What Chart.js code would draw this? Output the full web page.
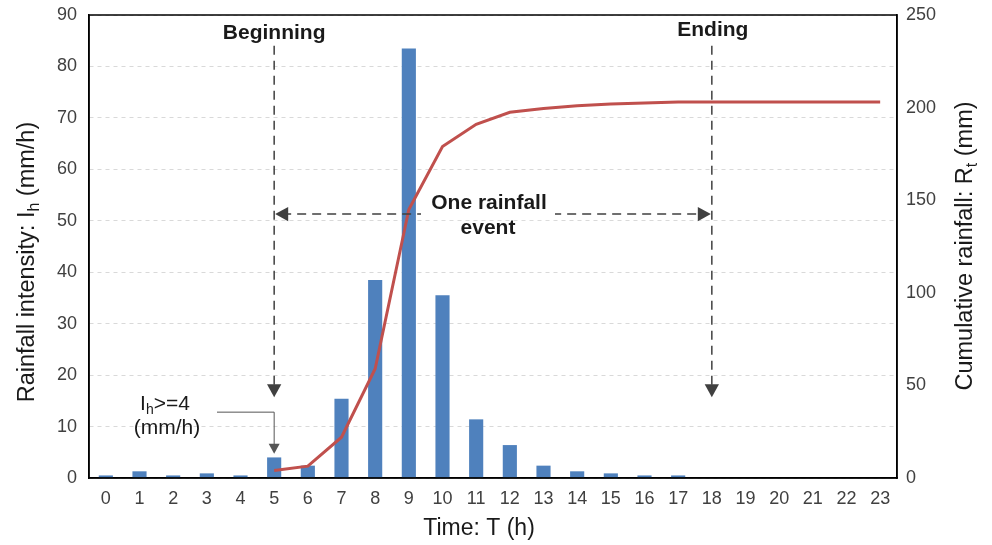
<!DOCTYPE html>
<html>
<head>
<meta charset="utf-8">
<script src="https://cdn.jsdelivr.net/npm/chart.js@4"></script>
<style>
  html, body { margin: 0; padding: 0; background: #fff; }
  #wrap { width: 992px; height: 545px; }
</style>
</head>
<body>
<div id="wrap"><canvas id="myChart" width="992" height="545"></canvas></div>
<script>
// hours 0..23
const hours = ['0','1','2','3','4','5','6','7','8','9','10','11','12','13','14','15','16','17','18','19','20','21','22','23'];
// hourly rainfall intensity (mm/h)
const intensity = [0.5, 1.3, 0.5, 0.9, 0.5, 4.0, 2.4, 15.4, 38.5, 83.5, 35.5, 11.4, 6.4, 2.4, 1.3, 0.9, 0.5, 0.5, 0, 0, 0, 0, 0, 0];
// cumulative rainfall (mm), starts at the beginning of the event
const cumulative = [null, null, null, null, null, 4.0, 6.4, 22, 59, 145, 179, 191, 197.5, 199.5, 201, 202, 202.5, 203, 203, 203, 203, 203, 203, 203];
const leftTicks = [0, 10, 20, 30, 40, 50, 60, 70, 80, 90];
const rightTicks = [0, 50, 100, 150, 200, 250];
const eventStart = 5;
const eventEnd = 18;

const FONT = 'Liberation Sans, Arial, sans-serif';
const txt = '#1a1a1a';
const tickCol = '#404040';
const arrowCol = '#404040';

function arrowHead(ctx, x, y, dir, size) {
  // dir: 'down', 'left', 'right'
  ctx.beginPath();
  if (dir === 'down') {
    ctx.moveTo(x, y); ctx.lineTo(x - size * 0.55, y - size); ctx.lineTo(x + size * 0.55, y - size);
  } else if (dir === 'left') {
    ctx.moveTo(x, y); ctx.lineTo(x + size, y - size * 0.55); ctx.lineTo(x + size, y + size * 0.55);
  } else {
    ctx.moveTo(x, y); ctx.lineTo(x - size, y - size * 0.55); ctx.lineTo(x - size, y + size * 0.55);
  }
  ctx.closePath();
  ctx.fill();
}

// draws pieces [[text, isSub], ...] centred at (0,0) of current transform
function subText(ctx, parts, size) {
  const subSize = Math.round(size * 0.68);
  let w = 0;
  parts.forEach(p => {
    ctx.font = (p[1] ? subSize : size) + 'px ' + FONT;
    w += ctx.measureText(p[0]).width;
  });
  let x = -w / 2;
  ctx.textAlign = 'left';
  ctx.textBaseline = 'middle';
  parts.forEach(p => {
    ctx.font = (p[1] ? subSize : size) + 'px ' + FONT;
    ctx.fillText(p[0], x, p[1] ? size * 0.28 : 0);
    x += ctx.measureText(p[0]).width;
  });
}

const annotations = {
  id: 'annotations',
  afterDraw(chart) {
    const ctx = chart.ctx;
    const area = chart.chartArea;
    const xs = chart.scales.x;
    const ys = chart.scales.y;
    ctx.save();

    // plot frame
    ctx.strokeStyle = '#000';
    ctx.lineWidth = 1.5;
    ctx.strokeRect(area.left, area.top, area.right - area.left, area.bottom - area.top);

    const xb = xs.getPixelForValue(eventStart);
    const xe = xs.getPixelForValue(eventEnd);
    const yTop = ys.getPixelForValue(84);
    const yTip = ys.getPixelForValue(15.7);
    const yH = ys.getPixelForValue(51.3);

    // vertical dashed arrows
    ctx.strokeStyle = arrowCol;
    ctx.fillStyle = arrowCol;
    ctx.lineWidth = 1.5;
    ctx.setLineDash([9, 6]);
    [xb, xe].forEach(x => {
      ctx.beginPath();
      ctx.moveTo(x, yTop);
      ctx.lineTo(x, yTip - 10);
      ctx.stroke();
    });
    // horizontal double arrow
    ctx.beginPath();
    ctx.moveTo(xb + 8, yH);
    ctx.lineTo(xe - 8, yH);
    ctx.stroke();
    ctx.setLineDash([]);
    arrowHead(ctx, xb, yTip, 'down', 13);
    arrowHead(ctx, xe, yTip, 'down', 13);
    arrowHead(ctx, xb + 1, yH, 'left', 13);
    arrowHead(ctx, xe - 1, yH, 'right', 13);

    // label box for the event text
    const xm = (xb + xe) / 2 - 5;
    ctx.fillStyle = '#fff';
    ctx.fillRect(xm - 67, yH - 24, 134, 30);
    ctx.fillStyle = txt;
    ctx.font = 'bold 21px ' + FONT;
    ctx.textAlign = 'center';
    ctx.textBaseline = 'middle';
    ctx.fillText('One rainfall', xm + 1, yH - 11);
    ctx.fillText('event', xm, yH + 14);

    ctx.fillText('Beginning', xb, area.top + 18);
    ctx.fillText('Ending', xe + 1, area.top + 15);

    // Ih >= 4 threshold label with connector
    ctx.save();
    ctx.translate(165, ys.getPixelForValue(14.3));
    ctx.fillStyle = txt;
    subText(ctx, [['I', false], ['h', true], ['>=4', false]], 21);
    ctx.restore();
    ctx.font = '21px ' + FONT;
    ctx.textAlign = 'center';
    ctx.fillText('(mm/h)', 167, ys.getPixelForValue(9.7));
    const yc = ys.getPixelForValue(12.8);
    const tip = ys.getPixelForValue(4.7);
    ctx.strokeStyle = '#555';
    ctx.fillStyle = '#555';
    ctx.lineWidth = 1;
    ctx.beginPath();
    ctx.moveTo(217, yc);
    ctx.lineTo(xb, yc);
    ctx.lineTo(xb, tip - 9);
    ctx.stroke();
    arrowHead(ctx, xb, tip, 'down', 10);

    // axis titles
    ctx.fillStyle = txt;
    ctx.save();
    ctx.translate(28, 262);
    ctx.rotate(-Math.PI / 2);
    subText(ctx, [['Rainfall intensity: I', false], ['h', true], [' (mm/h)', false]], 23.5);
    ctx.restore();

    ctx.save();
    ctx.translate(966, 246);
    ctx.rotate(-Math.PI / 2);
    subText(ctx, [['Cumulative rainfall: R', false], ['t', true], [' (mm)', false]], 23.5);
    ctx.restore();

    ctx.font = '23px ' + FONT;
    ctx.textAlign = 'center';
    ctx.textBaseline = 'middle';
    ctx.fillText('Time: T (h)', 479, 529);

    ctx.restore();
  }
};

const fitY = w => s => { s.width = w; s.paddingTop = 0; s.paddingBottom = 0; };

const ctx = document.getElementById('myChart').getContext('2d');
const myChart = new Chart(ctx, {
  data: {
    labels: hours,
    datasets: [{
      type: 'line',
      label: 'Cumulative rainfall',
      data: cumulative,
      yAxisID: 'y2',
      borderColor: '#C0504D',
      borderWidth: 3,
      pointRadius: 0,
      tension: 0,
      spanGaps: false,
      order: 0
    }, {
      type: 'bar',
      label: 'Rainfall intensity',
      data: intensity,
      yAxisID: 'y',
      backgroundColor: '#4F81BD',
      barPercentage: 0.42,
      categoryPercentage: 1.0,
      order: 1
    }]
  },
  options: {
    responsive: false,
    animation: false,
    layout: { padding: { top: 15, left: 0, right: 0, bottom: 0 } },
    plugins: { legend: { display: false }, tooltip: { enabled: false } },
    scales: {
      x: {
        grid: { display: false, drawTicks: false },
        border: { display: true, color: '#000', width: 1.5 },
        ticks: { color: tickCol, font: { family: FONT, size: 18 }, padding: 10, maxRotation: 0, autoSkip: false },
        afterFit: s => { s.height = 67; s.paddingLeft = 0; s.paddingRight = 0; }
      },
      y: {
        position: 'left',
        min: 0, max: 90,
        afterBuildTicks: s => { s.ticks = leftTicks.map(v => ({ value: v })); },
        grid: { color: '#d9d9d9', lineWidth: 1, drawTicks: false },
        border: { display: true, color: '#000', width: 1.5, dash: [4, 4] },
        ticks: { color: tickCol, font: { family: FONT, size: 18 }, padding: 12 },
        afterFit: fitY(89)
      },
      y2: {
        position: 'right',
        min: 0, max: 250,
        afterBuildTicks: s => { s.ticks = rightTicks.map(v => ({ value: v })); },
        grid: { display: false, drawTicks: false },
        border: { display: true, color: '#000', width: 1.5 },
        ticks: { color: tickCol, font: { family: FONT, size: 18 }, padding: 9 },
        afterFit: fitY(95)
      }
    }
  },
  plugins: [annotations]
});
</script>
</body>
</html>
